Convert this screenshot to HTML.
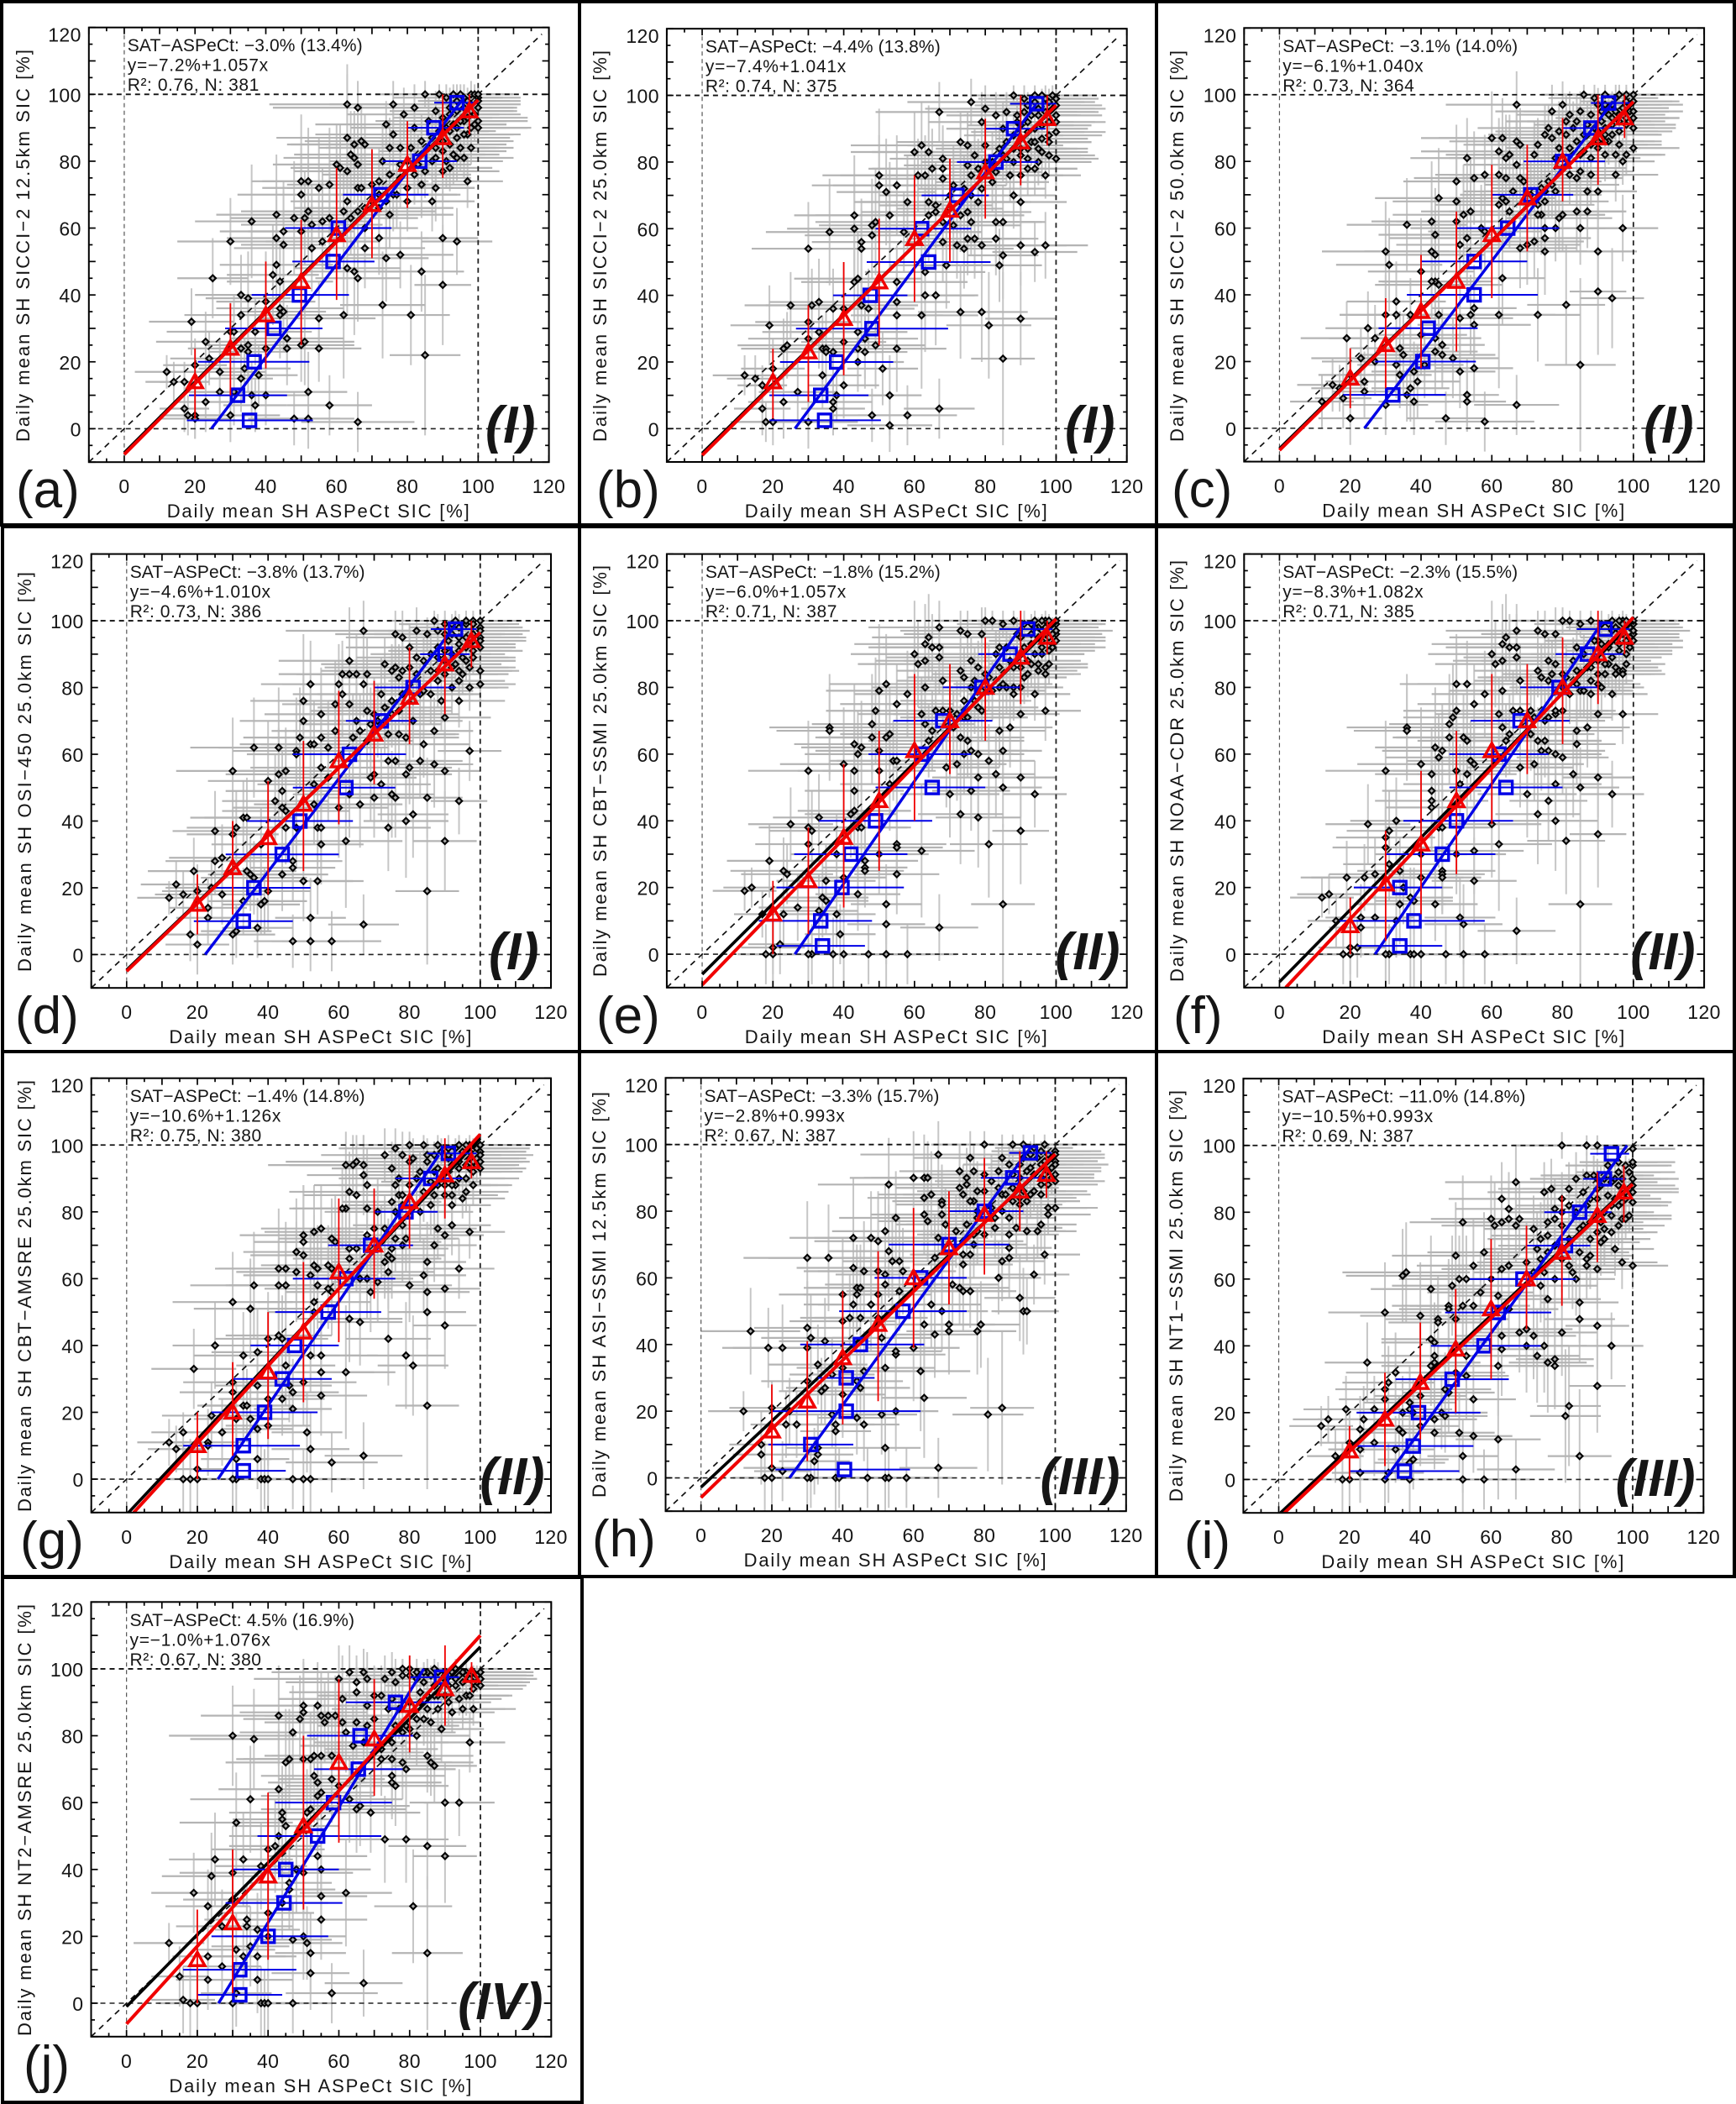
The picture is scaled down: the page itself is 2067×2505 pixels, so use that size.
<!DOCTYPE html>
<html lang="en">
<head>
<meta charset="utf-8">
<title>Daily mean SH satellite SIC versus ASPeCt SIC</title>
<style>
html,body{margin:0;padding:0;background:#fff;}
#figure{display:block;width:2067px;height:2505px;font-family:"Liberation Sans",sans-serif;}
text{font-family:"Liberation Sans",sans-serif;fill:#151515;}
</style>
</head>
<body>
<svg id="figure" xmlns="http://www.w3.org/2000/svg" width="2067" height="2505" viewBox="0 0 2067 2505"></svg>
<script>
const axisTickLabels=[0,20,40,60,80,100,120];
const redBinX=[20,30,40,50,60,70,80,90,97.5];
const blueBinY=[2.5,10,20,30,40,50,60,70,80,90,97.5];

const scatterA=[[12,17,9,5],[14,14,8,6],[17,14,7,6],[19,32,12,10],[20,19,9,8],[17,6,7,7],[18,4,8,6],[20,4,9,7],[20,3,10,6],[25,45,10,12],[23,26,14,9],[24,21,11,8],[23,8,8,9],[27,17,13,10],[27,11,9,8],[30,56,15,13],[33,40,13,12],[35,39,12,14],[33,34,16,10],[30,29,18,9],[31,29,12,11],[30,4,14,8],[31,11,10,10],[36,62,16,17],[35,25,12,11],[33,24,15,10],[35,23,11,12],[34,18,13,9],[33,15,9,10],[38,16,11,9],[36,10,10,10],[37,7,9,8],[40,10,12,9],[37,29,16,10],[40,38,14,15],[40,24,12,13],[43,64,17,18],[43,57,14,14],[45,55,12,16],[45,59,18,15],[43,49,16,12],[42,46,13,15],[44,44,15,11],[44,36,18,10],[45,35,12,12],[44,34,14,13],[46,27,16,10],[46,24,12,11],[48,3,13,8],[48,63,18,17],[50,59,15,16],[50,74,14,20],[50,70,18,14],[52,74,13,16],[55,72,16,15],[58,73,12,17],[52,65,19,15],[51,63,14,14],[53,61,20,12],[56,62,13,16],[53,54,22,13],[56,56,16,12],[58,63,14,15],[50,25,15,11],[51,26,14,13],[55,24,12,10],[55,33,16,11],[62,34,18,19],[52,11,11,12],[52,3,13,9],[58,7,12,9],[66,2,16,9],[63,97,22,9],[66,96,24,8],[63,87,20,22],[64,82,16,13],[65,85,18,10],[65,81,20,14],[67,86,16,11],[68,85,22,9],[66,79,18,12],[63,77,15,11],[60,79,18,12],[61,78,14,13],[66,72,17,12],[67,72,21,10],[63,68,16,13],[62,65,14,12],[64,63,19,11],[66,65,22,10],[68,60,15,14],[68,54,17,12],[72,57,14,11],[74,51,12,13],[78,52,15,10],[84,47,12,12],[94,56,10,10],[90,57,10,14],[90,43,8,18],[63,48,15,14],[65,47,13,19],[66,45,12,13],[73,37,12,16],[81,34,11,15],[85,22,10,24],[76,97,18,7],[82,96,16,7],[74,91,20,7],[76,88,22,8],[79,94,16,8],[82,90,18,9],[75,84,20,9],[78,84,14,10],[81,84,24,6],[84,86,16,8],[86,92,15,7],[88,95,13,6],[90,93,14,8],[92,96,12,6],[94,98,11,5],[96,99,11,4],[98,100,10,4],[100,99,12,3],[88,84,14,9],[90,86,20,8],[92,89,13,7],[94,90,14,8],[96,92,12,6],[98,95,13,5],[100,96,10,4],[87,80,12,8],[90,77,16,9],[93,82,13,9],[95,84,11,7],[97,88,15,5],[99,91,9,5],[88,72,11,10],[92,78,12,7],[97,74,10,8],[80,68,18,9],[76,70,16,11],[72,74,14,10],[84,73,13,10],[87,68,12,9],[78,79,16,9],[73,80,15,11],[85,100,14,4],[89,100,12,3],[100,92,14,4]];
const denseA=[[99,100,11,3],[97,98,12,4],[100,100,10,2],[95,100,13,3],[93,100,13,3],[91,99,15,4],[98,97,14,4],[100,98,12,3],[96,96,15,5],[94,95,16,5],[92,94,14,6],[99,94,13,4],[97,93,17,5],[95,92,13,6],[93,91,15,6],[91,90,18,6],[89,89,14,7],[87,87,15,7],[100,90,15,5],[98,90,16,5],[96,88,14,6],[94,87,15,6],[92,85,16,7],[90,83,18,8],[88,81,13,8],[86,84,17,8],[84,82,18,8],[83,79,15,9],[85,77,14,8],[91,80,16,8],[94,81,12,7],[96,81,14,6],[98,84,12,5],[80,80,19,9],[78,75,20,9],[82,76,16,9],[75,76,19,10],[77,70,18,10],[74,68,18,10],[80,72,19,9],[70,68,20,10],[72,66,21,10],[75,64,18,10],[72,70,22,9],[68,66,20,11],[70,73,19,10]];

const scatterB=[[12,16,9,6],[15,15,8,7],[17,13,7,6],[19,31,11,12],[20,18,9,9],[17,6,8,8],[18,2,10,6],[20,2,9,7],[25,37,13,10],[24,25,14,10],[23,24,12,9],[23,8,10,11],[27,11,11,9],[30,54,16,14],[33,38,14,13],[31,37,13,11],[30,32,15,12],[30,27,17,10],[30,2,14,8],[36,59,18,16],[37,36,13,12],[33,29,16,11],[34,24,14,10],[35,24,12,11],[35,23,16,12],[34,16,11,10],[37,23,14,10],[40,36,15,14],[40,26,12,12],[40,13,10,10],[37,6,9,8],[37,8,11,10],[38,10,13,8],[43,64,17,18],[43,60,19,14],[45,56,14,13],[45,54,16,12],[44,45,18,14],[43,44,15,12],[45,37,16,11],[47,36,13,12],[44,29,14,10],[44,24,11,12],[44,20,13,9],[46,27,15,12],[46,23,12,11],[49,25,14,13],[51,18,10,11],[53,10,9,12],[53,1,12,8],[48,4,11,8],[58,4,14,9],[67,6,10,9],[50,76,16,20],[50,73,19,15],[52,71,14,16],[55,73,18,15],[58,68,15,14],[53,64,21,16],[48,61,15,14],[49,62,17,16],[57,59,22,12],[48,58,19,13],[55,44,20,11],[55,38,15,12],[55,34,13,11],[55,24,14,13],[62,34,16,22],[63,40,14,17],[63,47,17,13],[66,40,12,15],[67,95,18,9],[76,98,18,7],[80,96,17,7],[60,83,18,12],[62,85,20,13],[64,83,16,14],[63,76,14,12],[61,76,22,11],[65,78,18,12],[68,81,15,10],[68,78,20,12],[66,67,16,13],[64,68,19,11],[64,64,14,14],[66,65,21,11],[71,73,15,12],[68,56,14,12],[69,49,16,13],[72,55,15,10],[74,54,14,12],[75,57,16,11],[77,57,12,12],[79,55,14,10],[83,57,12,11],[85,52,10,13],[84,49,12,11],[90,55,13,12],[94,53,12,9],[97,55,12,10],[73,35,12,14],[79,35,13,15],[81,31,12,16],[90,33,10,14],[85,21,9,26],[73,86,18,9],[75,85,16,10],[77,82,20,8],[80,85,22,7],[79,92,15,9],[83,94,14,7],[85,90,16,8],[88,100,12,3],[91,99,13,4],[94,100,11,3],[97,99,10,4],[99,100,11,3],[100,97,13,3],[86,95,14,6],[89,94,15,5],[92,92,13,7],[95,94,12,5],[98,95,14,5],[100,92,11,6],[85,82,14,8],[88,80,16,9],[90,84,13,8],[93,86,12,7],[95,84,14,6],[98,86,12,7],[100,81,12,8],[83,77,13,10],[87,76,15,8],[90,76,11,9],[94,78,12,8],[97,76,10,7],[92,81,16,7],[96,83,13,8],[83,62,14,12],[85,62,11,11],[88,70,12,10],[90,68,13,12],[78,68,15,11],[75,65,18,10],[74,72,13,10],[70,66,15,11]];
const denseB=[[100,99,12,3],[98,98,13,4],[96,100,12,2],[94,98,14,4],[92,97,15,4],[99,96,15,4],[97,95,14,5],[95,96,16,4],[93,94,13,6],[91,95,15,5],[89,92,16,6],[100,94,13,4],[98,92,16,5],[96,91,14,5],[94,90,15,6],[92,89,16,6],[90,91,15,6],[88,88,14,7],[86,86,18,7],[100,89,14,5],[98,88,15,5],[96,87,13,6],[94,86,16,6],[92,84,14,7],[90,82,17,8],[88,84,16,8],[86,81,15,8],[84,84,18,8],[82,80,16,9],[92,78,14,8],[95,80,15,7],[98,82,13,6],[80,80,18,9],[78,78,19,9],[76,76,17,10],[82,74,16,9],[79,72,18,10],[76,70,17,10],[73,68,19,10],[73,64,18,11],[76,62,18,10],[71,61,19,11],[68,62,22,10],[70,70,20,11],[68,75,18,11],[75,79,18,10]];

const scatterC=[[12,8,9,8],[15,13,10,8],[17,12,8,7],[19,27,13,11],[20,16,9,8],[18,9,8,9],[20,3,9,8],[25,30,12,11],[23,21,14,9],[24,14,11,9],[24,11,9,8],[27,27,13,10],[27,20,15,10],[30,53,18,15],[31,49,15,14],[33,38,14,12],[30,34,13,12],[33,34,16,11],[30,7,12,9],[36,61,17,14],[37,34,12,11],[34,24,14,11],[35,22,12,12],[33,19,11,10],[34,16,9,10],[38,17,12,9],[37,12,11,10],[36,10,13,8],[38,8,10,10],[40,47,15,16],[40,28,13,12],[39,14,12,11],[41,19,11,10],[43,62,17,18],[44,58,16,14],[43,53,19,15],[44,52,14,13],[44,44,16,13],[43,44,14,11],[45,43,18,12],[45,34,15,12],[45,69,18,15],[44,27,13,10],[44,23,12,13],[46,22,15,10],[46,25,12,11],[47,3,11,8],[49,21,13,12],[51,17,10,11],[51,33,15,13],[53,10,9,11],[53,8,11,9],[54,34,14,12],[55,36,12,13],[55,31,16,12],[55,18,11,10],[58,2,14,9],[67,7,12,9],[50,62,17,20],[50,74,15,17],[50,68,18,15],[52,64,20,15],[53,57,22,14],[54,65,14,16],[55,75,17,14],[53,81,16,12],[58,76,14,12],[51,55,18,14],[57,60,20,13],[58,59,16,12],[62,34,16,22],[63,45,12,14],[60,87,20,14],[63,87,18,12],[62,83,22,10],[64,81,16,13],[65,82,18,12],[62,76,14,13],[64,75,20,12],[68,75,16,12],[67,79,15,13],[67,86,19,10],[68,85,16,11],[67,97,20,10],[64,68,16,12],[62,67,18,12],[63,69,15,14],[65,65,17,11],[66,71,14,12],[68,54,16,12],[72,56,14,11],[70,55,15,12],[74,64,14,12],[73,67,16,10],[75,60,14,11],[75,53,12,13],[75,57,13,12],[78,60,14,10],[80,64,12,11],[79,63,15,10],[85,19,10,26],[81,37,11,18],[73,34,12,14],[90,41,8,19],[94,39,9,15],[90,53,11,13],[97,60,10,10],[84,65,13,12],[85,60,12,11],[87,65,11,11],[75,88,16,9],[73,85,18,8],[76,90,20,7],[77,95,16,8],[80,97,14,7],[81,88,18,8],[79,84,15,9],[78,81,16,9],[82,94,15,7],[84,92,14,8],[86,100,12,3],[89,99,13,4],[92,97,11,5],[95,99,12,4],[98,100,10,3],[100,98,13,3],[86,88,14,8],[89,90,13,7],[91,92,14,6],[94,91,12,7],[96,94,13,5],[99,95,11,5],[100,90,12,5],[85,82,15,8],[88,81,14,8],[90,84,12,8],[93,86,13,7],[96,85,12,7],[98,82,11,6],[100,84,13,6],[84,75,13,9],[88,76,12,9],[90,71,11,11],[95,76,12,8],[97,80,9,7],[87,71,13,9],[92,88,15,7],[76,74,15,11],[78,71,18,10],[74,72,14,9]];
const denseC=[[100,100,11,2],[98,98,13,4],[96,100,13,3],[94,97,14,4],[92,100,15,3],[90,97,14,5],[99,97,15,4],[97,96,13,5],[95,95,15,5],[93,94,13,5],[91,95,16,5],[88,94,15,6],[100,95,14,4],[98,93,15,5],[96,92,13,5],[94,93,16,5],[92,90,14,6],[90,89,17,6],[87,91,15,7],[85,95,16,6],[100,93,13,4],[98,91,14,5],[96,89,15,5],[94,88,14,6],[92,86,16,7],[90,86,13,7],[88,85,16,8],[86,83,15,8],[84,86,17,8],[82,84,16,8],[92,82,14,8],[95,82,13,7],[83,90,17,8],[81,92,17,8],[79,89,18,9],[77,87,18,9],[80,78,18,9],[82,76,16,9],[85,77,15,9],[77,73,19,10],[75,68,18,10],[73,64,19,11],[75,71,17,10],[71,70,20,10],[69,74,19,11],[72,82,18,10]];

const scatterD=[[12,17,9,5],[14,21,10,7],[16,18,8,7],[19,25,13,10],[20,19,10,8],[18,6,8,8],[20,3,9,9],[25,37,12,12],[24,20,13,9],[23,14,11,9],[23,11,9,8],[25,28,14,10],[27,29,15,10],[27,18,12,9],[30,55,16,16],[30,36,13,13],[31,38,14,11],[33,41,15,11],[34,41,12,12],[30,6,12,9],[31,7,10,8],[36,62,18,15],[34,25,14,10],[35,24,12,11],[36,23,15,11],[33,16,10,10],[38,15,11,9],[39,16,12,10],[37,8,10,9],[40,52,17,18],[38,33,14,11],[40,19,12,12],[43,62,17,18],[43,54,15,14],[45,55,13,13],[44,49,16,12],[42,46,15,14],[44,44,14,12],[45,43,18,12],[45,38,15,11],[44,24,13,11],[47,28,14,12],[47,26,12,10],[47,4,11,8],[48,38,15,12],[48,61,18,16],[48,60,14,14],[49,65,16,15],[50,76,15,20],[50,70,18,14],[52,81,14,13],[52,63,20,15],[53,63,15,13],[55,72,16,14],[59,75,15,13],[55,65,14,13],[57,62,17,14],[59,67,18,12],[53,51,16,15],[55,56,20,12],[57,53,14,13],[53,45,17,12],[54,38,16,11],[55,38,14,12],[55,33,12,12],[54,22,13,10],[52,11,10,12],[52,4,11,9],[58,4,14,9],[67,9,10,9],[50,22,14,12],[62,34,16,20],[60,44,14,15],[63,48,16,13],[66,45,12,13],[67,97,22,9],[63,88,20,16],[61,84,18,10],[63,84,15,13],[65,84,16,12],[68,84,14,11],[60,81,16,12],[61,78,14,13],[67,81,18,10],[63,75,15,12],[65,70,17,12],[64,65,15,13],[66,67,19,11],[68,64,13,11],[68,73,16,12],[70,54,15,13],[69,53,13,13],[72,51,14,11],[70,47,13,12],[74,58,16,11],[76,58,12,12],[75,48,12,13],[76,47,11,12],[79,54,13,10],[80,56,12,11],[81,42,10,13],[79,40,12,17],[74,38,12,13],[90,34,9,15],[85,19,9,22],[85,47,10,12],[94,46,8,10],[90,55,10,12],[97,61,9,9],[83,58,12,11],[87,57,11,13],[84,63,13,10],[87,67,11,10],[76,96,17,7],[78,95,16,8],[80,92,18,7],[82,97,15,7],[73,87,18,8],[75,85,20,8],[77,83,16,10],[82,89,17,7],[85,96,15,5],[88,92,14,6],[87,100,12,3],[90,99,13,4],[93,100,11,3],[96,99,11,4],[98,100,10,3],[100,98,12,3],[91,94,13,6],[94,95,12,5],[97,93,13,5],[100,92,10,5],[88,85,15,8],[90,88,20,7],[93,87,13,6],[95,89,13,7],[98,89,12,5],[100,85,11,6],[86,78,14,9],[89,76,12,9],[92,80,13,8],[95,84,13,6],[97,80,11,7],[100,81,10,7],[90,71,13,11],[94,76,13,8],[77,73,15,10],[75,76,18,10],[81,70,14,11],[79,65,15,10],[73,70,15,10],[84,79,14,9]];
const denseD=[[100,100,11,2],[98,99,13,3],[96,100,13,3],[94,98,14,4],[92,99,14,3],[100,97,14,3],[98,96,14,4],[96,95,15,5],[94,93,14,5],[92,96,15,4],[90,96,16,5],[88,97,14,5],[100,95,13,4],[98,94,15,4],[96,92,14,5],[94,91,15,5],[92,90,15,6],[90,91,16,6],[88,89,14,6],[86,90,17,6],[100,94,12,4],[98,91,14,5],[96,88,14,6],[94,85,15,6],[92,86,16,7],[90,84,15,7],[88,82,14,8],[86,85,16,8],[84,88,16,7],[82,84,17,8],[94,82,13,7],[97,86,13,6],[80,86,19,8],[78,85,19,9],[76,86,20,9],[83,78,15,9],[81,76,17,9],[78,78,18,9],[75,72,19,10],[73,74,19,10],[71,70,20,11],[74,66,19,10],[77,66,17,10],[70,72,20,11],[69,69,20,11],[72,78,18,11]];

const scatterE=[[12,19,9,6],[14,20,8,6],[17,12,8,7],[19,28,12,11],[20,2,9,8],[18,0,8,9],[20,0,9,10],[25,39,12,11],[23,25,15,10],[24,24,13,9],[23,12,10,10],[22,3,9,9],[27,14,11,10],[30,55,17,15],[30,38,14,14],[31,37,12,12],[30,33,15,12],[33,41,13,13],[31,0,11,9],[30,0,12,11],[33,13,11,11],[34,17,13,12],[35,16,12,10],[35,22,14,11],[36,68,17,16],[36,67,15,13],[38,12,11,10],[39,6,10,9],[37,0,10,11],[40,0,11,10],[40,57,18,17],[38,30,13,12],[40,23,12,13],[43,63,17,18],[44,60,15,13],[45,62,17,14],[43,55,16,14],[43,49,14,13],[43,43,16,13],[42,42,13,13],[44,38,15,12],[45,38,13,11],[44,18,12,11],[46,28,15,13],[46,26,12,11],[46,25,11,11],[47,0,12,9],[50,30,14,12],[50,61,18,15],[48,69,17,15],[49,73,14,16],[50,79,15,20],[52,81,16,15],[48,65,15,14],[52,65,20,13],[53,66,14,14],[54,58,18,12],[55,58,17,13],[53,51,14,14],[50,55,16,12],[52,15,10,12],[52,9,11,12],[52,0,12,10],[58,0,14,9],[67,8,11,10],[55,75,16,12],[55,33,14,13],[55,32,13,12],[55,24,12,12],[62,31,15,20],[58,78,15,13],[60,90,18,16],[63,93,20,12],[64,95,16,13],[61,87,17,13],[63,88,14,12],[65,92,18,10],[67,89,15,11],[67,92,16,10],[67,98,20,8],[63,80,15,12],[68,82,13,11],[66,73,17,12],[68,73,15,12],[62,72,18,11],[63,69,14,13],[65,67,16,12],[64,64,17,11],[70,48,14,13],[69,56,15,12],[72,57,14,11],[73,42,12,15],[76,49,11,12],[75,64,16,11],[74,60,14,12],[78,60,13,11],[78,41,12,15],[78,53,13,11],[81,33,11,16],[85,15,9,24],[90,37,8,16],[90,53,10,12],[94,48,9,10],[85,50,11,12],[81,58,13,11],[83,54,11,13],[85,61,11,12],[84,67,13,11],[87,68,12,12],[90,72,11,14],[97,73,10,9],[73,85,18,8],[74,83,16,9],[76,88,19,7],[75,96,18,7],[73,97,17,6],[79,96,15,8],[80,100,15,4],[82,100,14,3],[77,82,14,10],[79,79,15,9],[81,83,13,10],[84,92,15,8],[85,99,13,4],[88,100,12,3],[91,99,13,4],[94,100,12,3],[97,100,11,3],[100,99,13,3],[100,96,13,4],[90,95,14,5],[93,96,13,4],[96,97,11,4],[99,93,12,5],[87,88,14,8],[90,86,13,8],[93,87,12,7],[96,90,12,6],[98,87,11,6],[85,81,14,8],[88,80,12,9],[91,83,12,8],[95,85,11,7],[97,84,10,6],[94,78,10,8],[74,71,18,10],[77,76,16,10],[79,73,13,9],[70,73,15,11]];
const denseE=[[100,100,13,2],[99,99,15,2],[98,100,14,2],[97,98,15,3],[96,100,16,2],[95,98,14,3],[94,98,16,3],[93,99,15,3],[100,97,16,3],[99,96,14,3],[98,95,16,4],[97,96,13,4],[96,94,15,4],[95,95,16,4],[93,93,14,5],[91,92,15,5],[89,96,14,5],[100,94,14,3],[99,92,15,4],[98,91,13,5],[96,92,15,4],[94,90,14,5],[92,88,15,6],[90,90,15,6],[88,86,14,7],[86,92,15,6],[84,86,16,7],[83,90,15,7],[92,84,13,7],[95,87,12,6],[97,86,12,6],[86,80,14,8],[88,78,13,8],[90,80,12,8],[84,80,15,8],[82,79,15,9],[80,84,15,9],[78,86,17,8],[78,74,17,10],[76,80,17,9],[74,76,18,10],[72,72,18,10],[75,71,17,10],[73,65,18,10],[76,61,16,11],[71,68,18,11]];

const scatterF=[[12,17,9,6],[14,18,9,6],[16,10,8,8],[19,23,13,11],[20,2,9,8],[18,0,8,9],[20,0,9,10],[25,39,12,12],[24,23,15,10],[23,11,10,10],[23,8,9,9],[22,2,8,9],[27,11,11,10],[27,24,13,11],[30,55,17,15],[30,35,14,14],[31,37,12,12],[30,32,15,12],[33,40,13,13],[31,0,11,9],[30,0,12,11],[31,27,13,11],[33,10,11,11],[34,15,13,12],[34,25,12,10],[35,20,14,11],[36,68,17,16],[36,67,15,13],[38,16,11,10],[37,17,12,9],[37,0,10,11],[38,0,11,10],[40,0,11,10],[40,57,18,17],[40,30,13,12],[40,23,12,13],[44,62,17,18],[45,59,15,13],[46,61,17,14],[43,54,16,14],[43,49,14,13],[43,46,16,13],[43,44,13,13],[45,38,15,12],[46,38,13,11],[44,15,12,11],[46,25,15,13],[46,24,12,11],[46,23,11,11],[47,0,12,9],[50,30,14,12],[50,55,18,15],[48,69,17,15],[49,71,14,16],[50,73,15,20],[50,81,16,15],[53,81,14,13],[48,65,15,14],[52,65,20,13],[53,64,14,14],[54,58,18,12],[55,57,17,13],[53,54,14,14],[51,51,16,12],[55,22,12,13],[51,11,10,12],[52,9,11,12],[52,0,12,10],[58,0,14,9],[67,7,11,10],[55,75,16,12],[55,31,14,13],[62,33,15,20],[60,39,14,16],[58,78,15,13],[60,90,18,16],[63,93,20,12],[64,95,16,13],[61,87,17,13],[63,88,14,12],[65,92,18,10],[67,89,15,11],[67,92,16,10],[67,97,20,8],[63,79,15,12],[68,82,13,11],[66,73,17,12],[68,73,15,12],[62,72,18,11],[63,68,14,13],[65,66,16,12],[64,64,17,11],[70,48,14,13],[68,56,15,12],[72,57,14,11],[73,42,12,15],[76,46,11,12],[75,64,16,11],[74,61,14,12],[78,60,13,11],[78,40,12,15],[78,51,13,11],[81,34,11,16],[85,15,9,24],[90,36,8,16],[90,53,10,12],[94,48,9,10],[85,50,11,12],[80,59,13,11],[83,54,11,13],[84,63,11,12],[84,67,13,11],[87,68,12,12],[90,72,11,14],[97,72,10,9],[73,85,18,8],[74,83,16,9],[76,88,19,7],[75,96,18,7],[73,97,17,6],[78,96,15,8],[80,100,15,4],[82,100,14,3],[77,84,14,10],[80,80,15,9],[81,83,13,10],[84,92,15,8],[85,99,13,4],[88,100,12,3],[91,99,13,4],[94,100,12,3],[97,100,11,3],[100,99,13,3],[100,96,13,4],[90,94,14,5],[93,93,13,4],[96,97,11,4],[99,93,12,5],[87,86,14,8],[90,84,13,8],[93,87,12,7],[96,85,12,6],[98,87,11,6],[85,79,14,8],[88,82,12,9],[91,80,12,8],[95,84,11,7],[97,85,10,6],[94,78,10,8],[76,71,18,10],[78,72,16,10],[80,73,13,9],[71,73,15,11]];
const denseF=[[100,100,13,2],[99,98,15,2],[98,100,14,2],[97,99,15,3],[96,100,16,2],[95,98,14,3],[94,97,16,3],[93,99,15,3],[100,97,16,3],[99,95,14,3],[98,94,16,4],[97,96,13,4],[96,93,15,4],[95,94,16,4],[93,92,14,5],[91,93,15,5],[89,94,14,5],[100,94,14,3],[99,92,15,4],[98,90,13,5],[96,91,15,4],[94,89,14,5],[92,87,15,6],[90,88,15,6],[88,86,14,7],[86,90,15,6],[84,85,16,7],[83,88,15,7],[92,84,13,7],[95,86,12,6],[97,84,12,6],[86,79,14,8],[88,78,13,8],[90,81,12,8],[84,81,15,8],[82,78,15,9],[80,84,15,9],[78,87,17,8],[78,73,17,10],[76,82,17,9],[74,83,18,10],[72,71,18,10],[75,70,17,10],[73,64,18,10],[76,61,16,11],[71,66,18,11]];

const scatterG=[[12,11,9,7],[14,9,8,7],[16,14,9,6],[19,33,12,12],[16,0,8,11],[18,0,9,12],[20,0,9,10],[20,3,8,9],[25,40,12,13],[24,19,14,10],[23,11,10,10],[23,10,9,9],[27,14,11,10],[30,53,17,15],[30,29,14,13],[30,26,15,12],[31,0,12,10],[30,0,11,11],[31,18,12,11],[31,6,10,9],[33,37,14,13],[33,22,13,11],[34,22,13,11],[36,58,18,16],[35,51,16,15],[35,18,11,10],[37,38,13,13],[37,28,12,11],[37,15,10,11],[37,6,9,9],[38,0,9,10],[39,0,10,9],[40,0,11,11],[40,16,12,12],[40,24,14,12],[40,42,15,14],[43,63,18,18],[43,58,15,14],[45,58,16,14],[45,63,19,14],[43,43,15,14],[44,42,13,13],[45,34,14,12],[44,24,12,11],[47,21,11,11],[47,26,13,10],[46,28,12,11],[47,0,11,9],[50,29,15,13],[50,0,13,9],[52,0,12,10],[48,68,15,16],[48,62,17,15],[50,71,14,17],[50,73,18,15],[50,67,15,14],[52,61,19,14],[53,74,14,14],[55,75,17,13],[53,64,15,15],[54,63,16,13],[57,64,16,12],[58,63,15,12],[54,58,14,13],[57,57,18,12],[58,56,13,13],[53,53,16,14],[53,50,13,14],[55,37,16,12],[55,32,15,12],[55,25,13,12],[52,37,14,11],[51,14,10,12],[52,9,11,11],[58,5,13,9],[67,7,11,10],[62,32,14,20],[63,48,15,13],[66,47,12,13],[74,42,12,14],[79,37,11,16],[81,34,10,15],[85,22,9,25],[90,46,9,13],[85,50,11,11],[85,56,12,12],[84,61,12,11],[85,65,11,12],[90,57,10,12],[94,63,10,9],[97,74,10,8],[92,76,11,9],[90,73,11,11],[87,70,12,11],[58,72,15,12],[59,71,14,14],[62,81,16,13],[61,81,14,12],[63,69,15,12],[65,69,14,13],[63,66,16,12],[68,60,13,12],[66,60,15,12],[69,56,14,12],[71,59,13,12],[73,65,15,11],[75,66,14,12],[74,62,13,11],[78,70,14,11],[80,58,12,11],[62,94,22,10],[65,95,20,8],[64,94,18,9],[67,94,18,9],[67,91,16,12],[68,88,15,11],[63,86,17,12],[65,85,15,10],[68,81,14,11],[71,80,15,10],[68,73,17,11],[70,75,15,11],[73,97,18,8],[76,99,16,6],[78,97,15,7],[80,95,14,7],[75,93,17,8],[76,88,16,10],[77,85,14,9],[75,83,14,10],[78,76,14,11],[80,100,15,4],[84,100,13,3],[88,100,12,3],[91,99,12,4],[94,100,11,3],[97,100,10,3],[100,98,13,3],[100,95,12,4],[85,95,14,6],[88,93,13,6],[91,96,12,5],[94,95,12,5],[97,93,12,5],[99,94,11,5],[84,86,14,9],[87,85,13,8],[90,88,13,7],[93,88,12,6],[96,86,12,6],[98,88,11,6],[88,75,11,9],[92,82,11,7]];
const denseG=[[100,100,14,2],[99,99,15,2],[98,100,14,2],[97,98,16,3],[96,100,15,2],[95,98,15,3],[93,99,15,3],[91,97,15,3],[89,98,15,4],[87,97,15,4],[100,97,15,3],[99,96,14,3],[98,95,16,3],[97,96,14,4],[96,94,15,4],[94,93,14,5],[92,94,15,5],[90,92,16,5],[87,92,15,6],[85,97,16,5],[100,93,13,4],[98,92,14,4],[96,90,15,5],[94,90,13,5],[92,88,16,6],[90,85,14,7],[88,88,15,7],[86,89,14,7],[83,92,16,6],[81,96,16,6],[92,85,13,7],[95,84,12,6],[82,90,15,7],[80,88,15,8],[78,85,16,8],[77,90,17,8],[76,80,16,9],[78,82,16,9],[83,80,15,9],[86,82,14,9],[79,72,15,10],[76,72,17,10],[73,75,17,10],[72,71,17,11],[75,69,16,11],[74,67,16,11]];

const scatterH=[[12,20,10,6],[14,44,14,13],[17,10,9,10],[17,7,8,9],[19,39,13,12],[18,0,9,11],[20,0,9,10],[20,3,8,9],[20,21,12,8],[23,39,14,13],[23,2,8,9],[24,16,10,10],[25,20,12,10],[27,16,11,10],[30,66,18,17],[30,45,15,14],[31,42,14,13],[30,39,13,14],[31,0,11,9],[30,0,12,11],[33,34,14,12],[30,29,13,11],[34,26,12,10],[35,27,11,11],[32,5,10,10],[33,7,10,9],[33,9,9,10],[36,66,17,16],[35,41,13,13],[37,31,12,11],[37,19,12,10],[38,16,11,11],[38,14,10,10],[38,0,10,11],[39,0,11,9],[40,55,18,17],[40,47,15,15],[40,33,13,12],[40,25,12,13],[43,72,18,18],[43,63,16,15],[44,57,14,13],[45,57,16,13],[44,55,15,12],[43,52,14,13],[42,48,14,13],[45,48,13,12],[44,29,13,12],[44,18,11,11],[45,27,14,11],[46,32,13,12],[46,16,10,11],[47,0,11,9],[46,62,17,15],[48,52,15,14],[50,62,17,15],[50,55,15,14],[50,48,14,14],[52,33,14,13],[51,42,14,13],[51,19,10,12],[52,9,10,11],[52,0,11,10],[53,0,12,9],[55,20,12,12],[58,0,13,9],[67,3,11,9],[48,72,16,14],[50,71,18,15],[52,74,15,14],[53,68,17,14],[55,78,16,14],[54,65,14,14],[56,65,16,13],[57,62,15,13],[56,56,15,12],[53,88,20,14],[52,61,14,13],[52,58,17,12],[55,37,14,13],[55,38,13,12],[62,32,14,18],[63,24,12,18],[60,39,13,16],[63,46,13,14],[66,43,12,13],[68,50,13,12],[65,52,14,13],[70,46,13,14],[70,44,12,13],[60,90,18,14],[63,90,17,13],[64,90,16,11],[65,85,15,13],[63,84,16,11],[68,83,14,11],[68,82,13,10],[67,97,22,10],[63,79,15,12],[64,77,14,12],[68,79,14,11],[67,72,14,12],[66,66,15,13],[69,76,14,11],[71,58,13,12],[73,57,14,11],[74,56,12,12],[76,56,13,11],[74,64,14,12],[74,67,15,11],[78,44,11,13],[79,46,11,13],[81,19,10,17],[85,21,9,23],[90,54,10,13],[91,50,9,13],[92,50,9,10],[84,60,12,11],[85,65,12,12],[87,66,11,12],[87,69,12,10],[94,61,10,9],[97,67,10,9],[76,96,16,8],[73,92,17,8],[73,87,18,8],[75,88,16,9],[77,83,14,10],[78,80,15,9],[80,100,15,4],[85,96,14,7],[88,100,12,3],[91,100,12,3],[94,99,11,4],[97,100,11,3],[100,98,13,3],[100,95,12,4],[100,91,11,5],[84,92,15,7],[87,94,13,6],[90,94,13,5],[93,93,12,5],[96,94,12,5],[99,90,11,5],[85,85,14,8],[88,87,13,8],[91,86,12,7],[93,85,12,7],[96,88,11,6],[98,81,11,6],[83,78,14,9],[87,78,13,9],[90,82,12,8],[92,74,11,9],[95,74,11,8],[96,76,10,8],[80,73,15,10],[78,74,16,10],[83,75,14,9],[77,70,15,10]];
const denseH=[[100,97,14,3],[99,96,15,3],[98,97,15,3],[97,95,15,4],[96,98,14,3],[95,96,15,4],[93,97,15,4],[91,96,15,4],[100,94,15,3],[99,93,14,4],[98,92,15,4],[97,91,14,4],[96,90,15,5],[94,91,14,5],[92,92,15,5],[90,90,16,5],[88,91,15,6],[100,89,14,4],[98,88,14,5],[96,85,14,5],[94,86,15,6],[92,83,15,6],[90,84,16,7],[88,83,15,7],[86,85,15,7],[84,87,16,7],[82,89,16,8],[80,91,17,8],[77,92,16,8],[75,90,16,9],[80,86,16,8],[78,86,17,9],[76,83,16,9],[74,85,17,9],[82,81,15,9],[85,80,15,9],[87,73,14,9],[89,75,13,9],[100,81,12,5],[98,79,12,6],[78,78,16,9],[75,76,17,10],[77,73,16,10],[74,71,17,10],[76,67,16,11],[72,74,16,11]];

const scatterI=[[12,16,9,6],[14,18,10,7],[16,7,8,8],[19,21,12,10],[20,11,9,9],[18,0,9,11],[20,0,9,10],[25,35,12,12],[24,18,13,10],[23,15,10,10],[23,9,9,9],[23,2,8,9],[27,11,11,10],[27,21,13,10],[30,50,16,15],[30,27,14,13],[30,24,13,11],[31,29,13,11],[30,0,11,10],[31,2,10,9],[33,32,14,12],[33,9,11,10],[34,15,12,10],[35,14,11,10],[35,20,13,11],[36,62,18,15],[35,61,16,14],[37,23,13,11],[37,21,12,11],[37,5,10,10],[38,6,10,9],[38,20,12,10],[37,0,10,10],[40,16,11,12],[40,25,13,13],[40,49,17,16],[43,34,14,12],[44,37,15,12],[44,35,13,11],[43,42,14,13],[44,41,15,12],[45,48,15,13],[45,47,14,12],[43,57,17,16],[44,18,12,11],[44,14,11,11],[46,20,13,11],[47,19,12,11],[47,27,13,11],[48,26,13,12],[50,32,14,13],[48,52,16,14],[48,51,14,14],[49,58,17,15],[50,67,18,16],[50,48,15,14],[51,60,17,13],[52,77,15,14],[52,52,15,14],[53,60,14,13],[55,52,16,12],[55,64,16,14],[53,37,14,12],[53,31,12,13],[55,24,12,12],[51,14,10,12],[52,7,10,11],[52,0,11,10],[55,13,11,11],[58,0,13,9],[62,12,12,18],[67,3,11,9],[57,56,15,12],[58,68,16,12],[60,78,17,13],[61,76,15,13],[63,77,14,12],[63,84,15,11],[65,81,15,11],[65,78,14,12],[63,39,12,14],[62,34,13,15],[63,43,13,14],[62,55,14,13],[60,60,16,13],[63,63,17,12],[65,64,15,13],[67,89,20,11],[68,78,14,11],[67,76,14,11],[65,51,14,12],[68,44,13,12],[70,45,13,13],[70,40,12,14],[72,43,12,13],[73,37,12,14],[75,40,12,14],[76,35,11,15],[78,36,11,14],[78,34,11,13],[80,44,10,13],[81,19,10,20],[82,22,9,18],[85,7,9,20],[90,28,8,14],[90,46,9,13],[94,40,9,10],[90,63,10,12],[85,53,11,12],[85,48,10,13],[84,60,11,11],[83,62,12,11],[78,60,13,11],[75,62,14,12],[76,68,15,11],[73,69,15,11],[70,65,14,12],[74,72,15,11],[72,75,14,10],[76,77,14,10],[75,86,16,9],[77,87,15,9],[78,81,14,9],[80,80,15,9],[82,87,13,8],[84,90,13,8],[80,100,14,4],[87,100,13,3],[90,100,12,3],[87,91,13,7],[90,90,13,6],[93,94,12,5],[96,95,11,5],[100,99,12,3],[100,94,11,4],[100,88,12,5],[87,82,14,8],[90,84,13,7],[93,85,12,7],[96,88,11,6],[98,84,10,6],[100,83,11,5],[85,75,13,9],[88,77,13,8],[91,77,12,8],[94,79,12,7],[97,78,10,7],[88,67,12,10],[91,71,11,10],[95,69,11,8],[97,65,10,8],[100,64,10,7],[87,66,12,9],[92,75,11,9],[82,72,14,9],[80,76,15,10]];
const denseI=[[100,95,12,3],[99,92,13,4],[98,94,12,3],[97,90,13,4],[96,92,12,4],[95,90,13,5],[94,89,13,5],[93,91,13,5],[92,90,13,5],[91,88,14,6],[90,87,13,6],[89,91,14,6],[100,90,13,4],[99,87,14,4],[98,86,13,5],[97,83,13,5],[96,82,14,5],[95,84,13,6],[94,82,14,6],[92,80,14,7],[90,80,14,7],[88,84,14,7],[86,86,15,7],[100,86,13,4],[99,79,12,5],[98,78,13,6],[96,76,13,6],[94,74,13,7],[92,72,13,8],[90,74,14,8],[88,72,14,8],[86,76,14,8],[84,80,15,8],[82,82,15,8],[80,84,16,8],[78,78,15,9],[76,73,16,10],[78,70,16,10],[80,66,15,10],[82,64,15,10],[85,68,14,9],[87,64,13,10],[74,66,16,11],[72,62,17,11],[74,58,16,11],[76,54,15,12]];

const scatterJ=[[12,18,10,6],[15,8,8,9],[16,1,9,10],[18,0,9,11],[20,0,9,10],[19,33,12,12],[25,43,13,14],[24,38,14,13],[23,29,12,11],[23,14,10,10],[23,7,9,9],[27,11,11,10],[27,23,13,11],[30,80,18,15],[31,54,16,15],[30,39,15,14],[30,31,14,13],[31,16,11,11],[31,3,10,10],[30,0,11,11],[33,43,14,14],[34,23,13,11],[34,25,12,11],[33,14,12,10],[35,17,11,12],[36,79,18,15],[35,61,17,16],[38,41,13,13],[37,22,12,11],[37,14,11,10],[37,7,10,10],[38,0,10,11],[39,0,10,10],[40,0,11,10],[40,46,16,15],[40,27,13,13],[40,20,12,12],[43,64,17,18],[44,57,15,14],[44,55,14,13],[43,50,14,13],[42,47,13,14],[45,53,15,13],[44,30,13,11],[46,34,13,12],[46,36,12,11],[47,0,11,9],[47,19,11,11],[50,20,12,13],[51,18,10,11],[52,15,10,12],[52,9,11,11],[50,39,14,14],[48,40,15,13],[45,72,17,16],[46,73,15,15],[50,73,17,18],[52,73,15,14],[53,74,14,15],[55,74,16,13],[53,68,15,14],[54,66,14,14],[54,62,16,13],[55,63,15,13],[52,58,14,13],[51,57,13,13],[54,44,14,12],[55,40,14,12],[55,32,13,12],[55,25,13,12],[58,3,13,9],[62,33,13,16],[67,6,11,10],[58,67,15,13],[58,74,17,12],[60,65,15,13],[63,61,15,13],[65,58,14,13],[66,59,14,12],[69,57,14,12],[73,49,13,13],[79,49,12,13],[85,47,11,13],[90,44,9,14],[81,29,11,17],[85,15,10,23],[90,60,10,12],[94,60,10,10],[97,78,10,9],[89,82,12,10],[85,74,13,11],[86,72,12,10],[87,71,12,11],[78,72,14,11],[79,70,14,11],[75,68,15,12],[76,65,15,12],[75,66,14,11],[72,73,15,11],[70,75,14,11],[75,73,14,11],[50,87,18,15],[49,85,16,13],[50,89,20,14],[54,89,18,13],[55,86,16,13],[57,86,15,13],[56,84,17,12],[59,86,16,12],[47,81,15,14],[43,86,22,15],[61,91,18,13],[61,84,16,12],[62,81,15,12],[65,84,16,11],[64,77,15,12],[67,78,14,12],[68,83,14,11],[70,92,16,9],[60,97,24,10],[63,99,22,8],[65,96,20,8],[67,99,21,7],[68,97,19,8],[73,97,18,7],[75,99,17,6],[76,96,17,7],[78,98,16,5],[80,100,15,4],[82,99,14,4],[85,99,13,4],[87,100,12,3],[90,99,13,3],[93,100,12,3],[96,99,12,3],[99,98,14,3],[100,97,13,3],[84,96,15,5],[87,95,14,6],[90,96,13,5],[93,95,12,5],[96,92,12,6],[75,91,16,9],[77,88,15,9],[80,90,15,8],[83,93,14,7],[85,88,13,8],[88,92,13,6],[91,90,12,7],[95,88,12,6],[92,87,12,6],[79,83,15,9],[82,85,14,8]];
const denseJ=[[100,99,15,2],[99,98,16,2],[98,99,15,2],[97,98,16,2],[96,98,15,2],[95,99,15,2],[94,98,16,2],[92,99,15,2],[90,98,16,3],[88,99,15,3],[86,98,15,3],[84,99,15,3],[82,97,15,4],[80,98,15,4],[78,100,15,3],[100,97,16,2],[99,96,15,3],[98,96,14,3],[97,97,15,2],[100,95,13,3],[98,94,14,3],[95,96,13,3],[93,97,14,3],[91,95,14,4],[89,96,14,4],[87,92,14,5],[85,92,14,6],[83,90,15,7],[90,92,13,6],[88,88,14,7],[86,84,14,8],[84,85,14,8],[82,80,15,9],[80,82,15,9],[78,81,15,9],[76,83,16,9],[74,88,16,9],[72,92,17,9],[75,78,16,10],[72,76,16,10],[70,85,17,10],[68,89,17,10],[65,93,19,9],[94,91,12,5],[97,92,12,4],[98,88,12,5]];

const fitInterceptBlack=[-7.2,-7.4,-6.1,-4.6,-6.0,-8.3,-10.6,-2.8,-10.5,-1.0];
const fitSlopeBlack=[1.057,1.041,1.040,1.010,1.057,1.082,1.126,0.993,0.993,1.076];
const fitInterceptRed=[-7.7,-8.0,-6.6,-5.0,-9.2,-12.0,-12.3,-5.9,-11.6,-6.2];
const fitSlopeRed=[1.06,1.05,1.045,1.015,1.097,1.13,1.155,1.03,1.0,1.162];
const blueLineStart=[24.6,26.2,24,22.2,26.2,27,25.8,25,30,26];
const blueLineEndX=[95.6,94.3,94.3,93,91,91.2,88.3,93.3,98.4,84];
const blueLineEndY=[98.5,97.2,98,98.7,99.5,99.5,97,99.5,100,100];

const redMeanA=[14,24,34,44,58,67,79,87,95];
const redLowA=[3,10,18,25,38.5,51,66,75,88];
const redHighA=[24,37.5,50,62.5,78,83.6,92,100,100];
const blueMeanA=[35.4,32,36.7,42.3,49.5,59,60.5,72.5,83.5,87.5,94];
const blueLowA=[17.7,18.3,20.8,28.5,36,47.5,45.4,61.8,73,80,87.6];
const blueHighA=[53.3,46,52.3,56,63.5,70.7,75.5,86,94,96,100];

const redMeanB=[14,23,33,44,57,65.5,77,86,93];
const redLowB=[3,8,16,25,38,50,63,73,85];
const redHighB=[24,37,50,63,76,81,93,100,100];
const blueMeanB=[34.6,33.5,38,48,47.5,64,62,72,83,88,94.5];
const blueLowB=[19,19,22,26.5,37,46.5,49,62,72,80,87];
const blueHighB=[50.5,47,54,69.5,58,81.5,76,81,95,97,100];

const redMeanC=[15,25,35,44,58,69,80,87,93];
const redLowC=[6,12,18,23,39,53,68,73,87];
const redHighC=[24,39,52,65,79,85,93,100,100];
const blueMeanC=[null,32,40.5,42,55,55,64.5,71,80,88,93];
const blueLowC=[null,18,27,28,36,40,50,60,69,80,88];
const blueHighC=[null,47,55.5,56,73,70,79,83,92,97,100];

const redMeanD=[15,26,35,45,58,66,77,87,94];
const redLowD=[6,12,18,25,39,51,63,72,86];
const redHighD=[24,40,52,64,79,82,92,100,100];
const blueMeanD=[null,33,36,44,49,62,63,72,81,90,93];
const blueLowD=[null,19,24,28,34,47,47,62,70,83,86];
const blueHighD=[null,47,52,60,64,76,79,82,93,97,99];

const redMeanE=[12,22,35,46,61,70,80,89,95];
const redLowE=[0,6,14,25,40,54,64,75,90];
const redHighE=[22,38,57,67,84,87,95,103,100];
const blueMeanE=[34,33.5,39.5,42,49,65,62,68,79,87,92];
const blueLowE=[21,16,21,26,33,49,47,54,68,78,84];
const blueHighE=[46,48,57,58,65,80,76,82,90,97,99];

const redMeanF=[8.5,21,33,46,61,70,80,90,95];
const redLowF=[0,4,12,24,39,54,63,75,90];
const redHighF=[17,37,55,67,84,87,95,103,100];
const blueMeanF=[34,38,34,46,50,64,62,68,79,87,92];
const blueLowF=[22,17,21,30,35,48,48,54,68,78,84];
const blueHighF=[46,58,46,61,66,80,76,82,90,97,99];

const redMeanG=[10,20,32,44,62,70,83,91,95];
const redLowG=[0,7,12,23,41,54,69,78,90];
const redHighG=[20,35,50,65,84,87,97,102,100];
const blueMeanG=[33,33,39,44,47.5,57,62,69,79,86,91];
const blueLowG=[20,16,24,30,35,42,47,57,70,76,85];
const blueHighG=[45,49,54,58,60,72,76,81,88,95,99];

const redMeanH=[14,23,36,46,60,69,79,86,91];
const redLowH=[3,5,16,23,39,52,61,74,84];
const redHighH=[28,41,56,68,81,86,96,98,98];
const blueMeanH=[40.5,31,41,41,45,57,62,70,80,88,93];
const blueLowH=[21,19,20,33,28,39,49,53,70,79,87];
const blueHighH=[59,43,62,49,63,75,75,87,91,97,99];

const redMeanI=[8.5,18,29,39,51,60,68,79,86];
const redLowI=[0,4,12,20,30,45,52,65,77];
const redHighI=[16,32,47,57,72,76,85,92,94];
const blueMeanI=[35.5,38,39.5,49,58,62,69,81,85,92,94];
const blueLowI=[20,21,22,33,43,47,54,70,75,86,88];
const blueHighI=[51,55,57,65,74,77,84,88,94,98,99];

const redMeanJ=[13,24,38,53,72,79,89,94,98];
const redLowJ=[0,3,13,28,48,62,75,83,93];
const redHighJ=[28,46,63,80,97,97,104,107,102];
const blueMeanJ=[32,32,40,44.5,45,54,58.5,65.5,66,76,89];
const blueLowJ=[20,16,24,28,30,37,42,53,51,62,80];
const blueHighJ=[44,48,57,61,60,72,75,78,81,89,94];

const statLineOne=['SAT−ASPeCt: −3.0% (13.4%)','SAT−ASPeCt: −4.4% (13.8%)','SAT−ASPeCt: −3.1% (14.0%)','SAT−ASPeCt: −3.8% (13.7%)','SAT−ASPeCt: −1.8% (15.2%)','SAT−ASPeCt: −2.3% (15.5%)','SAT−ASPeCt: −1.4% (14.8%)','SAT−ASPeCt: −3.3% (15.7%)','SAT−ASPeCt: −11.0% (14.8%)','SAT−ASPeCt: 4.5% (16.9%)'];
const statLineTwo=['y=−7.2%+1.057x','y=−7.4%+1.041x','y=−6.1%+1.040x','y=−4.6%+1.010x','y=−6.0%+1.057x','y=−8.3%+1.082x','y=−10.6%+1.126x','y=−2.8%+0.993x','y=−10.5%+0.993x','y=−1.0%+1.076x'];
const statLineThree=['R²: 0.76, N: 381','R²: 0.74, N: 375','R²: 0.73, N: 364','R²: 0.73, N: 386','R²: 0.71, N: 387','R²: 0.71, N: 385','R²: 0.75, N: 380','R²: 0.67, N: 387','R²: 0.69, N: 387','R²: 0.67, N: 380'];
const yTitles=['Daily mean SH SICCI−2 12.5km SIC [%]','Daily mean SH SICCI−2 25.0km SIC [%]','Daily mean SH SICCI−2 50.0km SIC [%]','Daily mean SH OSI−450 25.0km SIC [%]','Daily mean SH CBT−SSMI 25.0km SIC [%]','Daily mean SH NOAA−CDR 25.0km SIC [%]','Daily mean SH CBT−AMSRE 25.0km SIC [%]','Daily mean SH ASI−SSMI 12.5km SIC [%]','Daily mean SH NT1−SSMI 25.0km SIC [%]','Daily mean SH NT2−AMSRE 25.0km SIC [%]'];
const xTitle='Daily mean SH ASPeCt SIC [%]';
const panelLetters=['(a)','(b)','(c)','(d)','(e)','(f)','(g)','(h)','(i)','(j)'];
const panelClasses=['(I)','(I)','(I)','(I)','(II)','(II)','(II)','(III)','(III)','(IV)'];

const panelBoxes=[
 {x0:2,y0:2,x1:690,y1:625,L:105.8,R:653.6,T:32.7,B:550.2,tc:27,t0:59,t1:526,lx:19,cx:638,cy:527},
 {x0:690,y0:2,x1:1377,y1:625,L:793.9,R:1341.7,T:34.2,B:550,tc:714,t0:60,t1:526,lx:710,cx:1328,cy:527},
 {x0:1377,y0:2,x1:2065,y1:625,L:1481.3,R:2029.1,T:33.3,B:549.6,tc:1401,t0:60,t1:526,lx:1395,cx:2017,cy:527},
 {x0:3,y0:627,x1:690,y1:1252,L:108.7,R:656,T:659.6,B:1176.2,tc:29,t0:681,t1:1157,lx:18,cx:642,cy:1154},
 {x0:690,y0:627,x1:1377,y1:1252,L:793.9,R:1341.7,T:659.6,B:1175.8,tc:714,t0:673,t1:1163,lx:710,cx:1334,cy:1154},
 {x0:1377,y0:627,x1:2065,y1:1252,L:1481.3,R:2029.1,T:659.6,B:1175.8,tc:1401,t0:667,t1:1169,lx:1397,cx:2019,cy:1154},
 {x0:3,y0:1252,x1:690,y1:1877,L:108.7,R:656,T:1283.7,B:1800.8,tc:29,t0:1286,t1:1800,lx:24,cx:649,cy:1779},
 {x0:690,y0:1252,x1:1377,y1:1877,L:792.5,R:1340.8,T:1283.3,B:1799.2,tc:713,t0:1300,t1:1783,lx:705,cx:1334,cy:1779},
 {x0:1377,y0:1252,x1:2065,y1:1877,L:1480.4,R:2028.3,T:1284.2,B:1801.2,tc:1400,t0:1298,t1:1788,lx:1410,cx:2019,cy:1781},
 {x0:3,y0:1878,x1:693,y1:2503,L:108.5,R:656.3,T:1907.3,B:2424.8,tc:29,t0:1910,t1:2424,lx:28,cx:647,cy:2404}
];
const allScatter=[scatterA.concat(denseA),scatterB.concat(denseB),scatterC.concat(denseC),scatterD.concat(denseD),scatterE.concat(denseE),scatterF.concat(denseF),scatterG.concat(denseG),scatterH.concat(denseH),scatterI.concat(denseI),scatterJ.concat(denseJ)];
const allRedMean=[redMeanA,redMeanB,redMeanC,redMeanD,redMeanE,redMeanF,redMeanG,redMeanH,redMeanI,redMeanJ];
const allRedLow=[redLowA,redLowB,redLowC,redLowD,redLowE,redLowF,redLowG,redLowH,redLowI,redLowJ];
const allRedHigh=[redHighA,redHighB,redHighC,redHighD,redHighE,redHighF,redHighG,redHighH,redHighI,redHighJ];
const allBlueMean=[blueMeanA,blueMeanB,blueMeanC,blueMeanD,blueMeanE,blueMeanF,blueMeanG,blueMeanH,blueMeanI,blueMeanJ];
const allBlueLow=[blueLowA,blueLowB,blueLowC,blueLowD,blueLowE,blueLowF,blueLowG,blueLowH,blueLowI,blueLowJ];
const allBlueHigh=[blueHighA,blueHighB,blueHighC,blueHighD,blueHighE,blueHighF,blueHighG,blueHighH,blueHighI,blueHighJ];

const NS='http://www.w3.org/2000/svg';
const root=document.getElementById('figure');
function make(parent,tag,attrs,content){
  const el=document.createElementNS(NS,tag);
  for(const k in attrs){el.setAttribute(k,attrs[k]);}
  if(content!==undefined){el.textContent=content;}
  parent.appendChild(el);
  return el;
}
function segment(parent,x1,y1,x2,y2,stroke,width,dash){
  const a={x1:x1,y1:y1,x2:x2,y2:y2,stroke:stroke,'stroke-width':width};
  if(dash){a['stroke-dasharray']=dash;}
  return make(parent,'line',a);
}
const defs=make(root,'defs',{});

panelBoxes.forEach(function(p,i){
  const sx=function(v){return p.L+(v+10)/130*(p.R-p.L);};
  const sy=function(v){return p.B-(v+10)/130*(p.B-p.T);};
  const panel=make(root,'g',{});
  
  
  const frame=make(panel,'rect',{x:p.x0,y:p.y0,width:p.x1-p.x0,height:p.y1-p.y0,fill:'none',stroke:'#000','stroke-width':4});
  
  
  const clip=make(defs,'clipPath',{id:'clip'+i});
  make(clip,'rect',{x:p.L,y:p.T,width:p.R-p.L,height:p.B-p.T});
  const plot=make(panel,'g',{'clip-path':'url(#clip'+i+')'});
  
  

  allScatter[i].forEach(function(d){
    const v=segment(plot,sx(d[0]),sy(d[1]-d[3]),sx(d[0]),sy(d[1]+d[3]),'#c6c6c6',2);
    
    
  });
  allScatter[i].forEach(function(d){
    const h=segment(plot,sx(d[0]-d[2]),sy(d[1]),sx(d[0]+d[2]),sy(d[1]),'#b4b4b4',2.2);
    
    
  });

  const ref0=segment(plot,sx(0),p.T,sx(0),p.B,'#555',1.2,'5 4');
  
  
  const ref100=segment(plot,sx(100),p.T,sx(100),p.B,'#222',1.8,'6 5');
  
  
  const refy0=segment(plot,p.L,sy(0),p.R,sy(0),'#222',1.6,'6 5');
  
  
  const refy100=segment(plot,p.L,sy(100),p.R,sy(100),'#111',1.8,'6 5');
  
  
  const diag=segment(plot,sx(-10),sy(-10),sx(118),sy(118),'#111',1.7,'7 6');
  
  

  allScatter[i].forEach(function(d){
    const cx=sx(d[0]),cy=sy(d[1]),r=3.7;
    const m=make(plot,'polygon',{points:(cx-r)+','+cy+' '+cx+','+(cy-r)+' '+(cx+r)+','+cy+' '+cx+','+(cy+r),fill:'#aaa',stroke:'#000','stroke-width':2.1});
    
    
  });

  const xStartBlack=Math.max(0,(-10-fitInterceptBlack[i])/fitSlopeBlack[i]);
  const blackFit=segment(plot,sx(xStartBlack),sy(fitInterceptBlack[i]+fitSlopeBlack[i]*xStartBlack),sx(100),sy(fitInterceptBlack[i]+fitSlopeBlack[i]*100),'#000',3.6);
  
  

  blueBinY.forEach(function(y,j){
    const m=allBlueMean[i][j];
    if(m===null){return;}
    const bar=segment(plot,sx(allBlueLow[i][j]),sy(y),sx(allBlueHigh[i][j]),sy(y),'#0000e6',2);
    
    
    const sq=make(plot,'rect',{x:sx(m)-7.5,y:sy(y)-7.5,width:15,height:15,fill:'none',stroke:'#0000e6','stroke-width':3.4});
    
    
  });
  const blueFit=segment(plot,sx(blueLineStart[i]),sy(0),sx(blueLineEndX[i]),sy(blueLineEndY[i]),'#0000e6',3.4);
  
  

  redBinX.forEach(function(x,j){
    const bar=segment(plot,sx(x),sy(allRedLow[i][j]),sx(x),sy(allRedHigh[i][j]),'#f00000',1.8);
    
    
  });
  const xStartRed=Math.max(0,(-10-fitInterceptRed[i])/fitSlopeRed[i]);
  const redFit=segment(plot,sx(xStartRed),sy(fitInterceptRed[i]+fitSlopeRed[i]*xStartRed),sx(100),sy(fitInterceptRed[i]+fitSlopeRed[i]*100),'#f00000',4);
  
  
  redBinX.forEach(function(x,j){
    const cx=sx(x),cy=sy(allRedMean[i][j]);
    const tri=make(plot,'polygon',{points:(cx-9)+','+(cy+7)+' '+cx+','+(cy-9)+' '+(cx+9)+','+(cy+7),fill:'none',stroke:'#f00000','stroke-width':3.4});
    
    
  });

  const axes=make(panel,'rect',{x:p.L,y:p.T,width:p.R-p.L,height:p.B-p.T,fill:'none',stroke:'#000','stroke-width':2});
  
  
  for(let t=-10;t<=120;t+=5){
    const len=(t%10===0)?8:4.5;
    const bt=segment(panel,sx(t),p.B,sx(t),p.B-len,'#000',1.7);
    
    
    const tt=segment(panel,sx(t),p.T,sx(t),p.T+len,'#000',1.7);
    
    
    const lt=segment(panel,p.L,sy(t),p.L+len,sy(t),'#000',1.7);
    
    
    const rt=segment(panel,p.R,sy(t),p.R-len,sy(t),'#000',1.7);
    
    
  }
  axisTickLabels.forEach(function(v){
    const xl=make(panel,'text',{x:sx(v),y:p.B+37,'font-size':23,'letter-spacing':0.4,'text-anchor':'middle'},String(v));
    
    
    const yl=make(panel,'text',{x:p.L-9,y:sy(v)+(v===120?17:9),'font-size':23,'letter-spacing':0.4,'text-anchor':'end'},String(v));
    
    
  });
  const xt=make(panel,'text',{x:(p.L+p.R)/2-1,y:p.B+66,'font-size':22,'text-anchor':'middle',textLength:360,lengthAdjust:'spacing'},xTitle);
  
  
  const ymid=(p.t0+p.t1)/2;
  const yt=make(panel,'text',{x:p.tc+8,y:ymid,'font-size':22,'text-anchor':'middle',textLength:p.t1-p.t0,lengthAdjust:'spacing',transform:'rotate(-90 '+(p.tc+8)+' '+ymid+')'},yTitles[i]);
  
  

  const s1=make(panel,'text',{x:p.L+46,y:p.T+28.5,'font-size':21,'letter-spacing':0.1},statLineOne[i]);
  
  
  const s2=make(panel,'text',{x:p.L+46,y:p.T+52,'font-size':21,'letter-spacing':0.7},statLineTwo[i]);
  
  
  const s3=make(panel,'text',{x:p.L+46,y:p.T+75.5,'font-size':21,'letter-spacing':0.55},statLineThree[i]);
  
  

  const letter=make(panel,'text',{x:p.lx,y:p.B+54,'font-size':62,fill:'#000'},panelLetters[i]);
  
  
  const cls=make(panel,'text',{x:p.cx,y:p.cy,'font-size':62,'font-style':'italic','font-weight':'bold','letter-spacing':0.5,'text-anchor':'end'},panelClasses[i]);
  
  
});
</script>
</body>
</html>
